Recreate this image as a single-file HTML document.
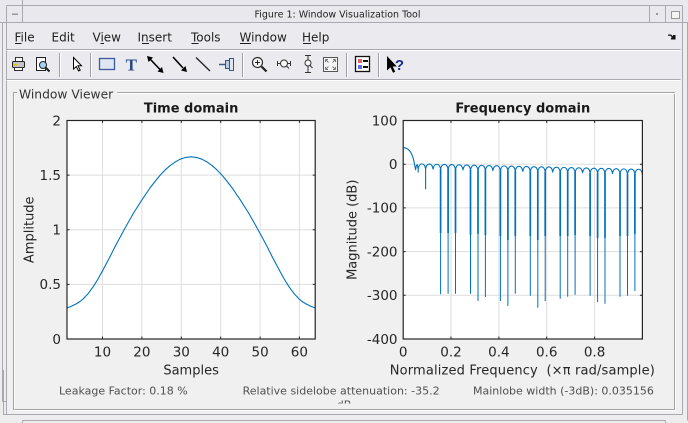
<!DOCTYPE html>
<html><head><meta charset="utf-8"><style>
html,body{margin:0;padding:0;background:#efefef;}
svg{display:block;}
text{font-family:"DejaVu Sans","Liberation Sans",sans-serif;}
</style></head><body>
<svg width="688" height="423" viewBox="0 0 688 423" xmlns="http://www.w3.org/2000/svg">
<defs>
<clipPath id="cl"><rect x="67" y="120" width="249" height="219.5"/></clipPath>
<clipPath id="cr"><rect x="403" y="120" width="240" height="219.5"/></clipPath>
<clipPath id="cb"><rect x="0" y="380" width="688" height="23.5"/></clipPath>
</defs>
<!-- backgrounds -->
<rect width="688" height="423" fill="#ededed"/>
<rect x="0" y="0" width="688" height="23" fill="#e9e9ed"/>
<rect x="6" y="23" width="677" height="57" fill="#ebebef"/>
<rect x="6" y="80" width="677" height="335" fill="#f0f0f0"/>
<!-- window frame lines -->
<path d="M6.5,5.5H682.5 M0,22.5H688 M22.5,0V22.5 M6.5,5.5V414.5 M649.5,5.5V22.5 M665.5,5.5V22.5 M682.5,5.5V414.5 M687.5,22.5V420.5 M3.5,370V414.5H682.5 M22.5,420.5H665.5 M22.5,420.5V423 M665.5,420.5V423 M2.5,22.5V401.5H6" fill="none" stroke="#a9a9b1" stroke-width="1"/>
<rect x="12" y="13.5" width="6" height="1.5" fill="#999"/>
<rect x="656" y="13" width="2" height="2" fill="#999"/>
<rect x="671.5" y="11.5" width="8" height="7" fill="#f4f4f4" stroke="#999"/>
<text x="337.5" y="17.3" font-size="10" fill="#222" text-anchor="middle" textLength="166" lengthAdjust="spacingAndGlyphs">Figure 1: Window Visualization Tool</text>
<!-- menu -->
<g font-size="12" fill="#1e1e1e">
<text x="14.5" y="41.5">File</text>
<text x="51.5" y="41.5">Edit</text>
<text x="92.5" y="41.5">View</text>
<text x="137.5" y="41.5">Insert</text>
<text x="191" y="41.5">Tools</text>
<text x="239.5" y="41.5">Window</text>
<text x="302" y="41.5">Help</text>
</g>
<path d="M15,43.5H21.5 M100.5,43.5H104 M142,43.5H149 M191.5,43.5H198.5 M240,43.5H251 M303,43.5H311" stroke="#1e1e1e" stroke-width="1"/>
<path d="M668,34.5L671,34.5L673,36.5L673,35L675.5,35L675.5,39.5L671,39.5L671,37.5L672.3,37.5L670.3,35.8L668,35.8Z" fill="#111"/>
<path d="M6.5,49.5H680.5 M6.5,79.5H680.5" stroke="#a9a9b1"/>
<path d="M6.5,50.5H680.5 M6.5,80.5H680.5" stroke="#ffffff"/>
<!-- toolbar separators -->
<path d="M59.5,53V77 M90.5,53V77 M242.5,53V77 M346.5,53V77 M378.5,53V77" stroke="#a0a0a8"/>
<path d="M60.5,53V77 M91.5,53V77 M243.5,53V77 M347.5,53V77 M379.5,53V77" stroke="#fff"/>
<!-- toolbar icons -->
<rect x="15.5" y="57.5" width="7" height="4" fill="#fff" stroke="#333"/>
<rect x="12.5" y="61.5" width="12" height="6" rx="1" fill="#c4c4c8" stroke="#222"/>
<rect x="14" y="64" width="3" height="1.5" fill="#e0c000"/>
<rect x="14.5" y="67.5" width="8" height="3" fill="#fff" stroke="#333"/>
<rect x="36.5" y="57.5" width="9" height="13" fill="#fff" stroke="#222"/>
<circle cx="43" cy="65" r="3.5" fill="#a8d0f0" stroke="#222"/>
<path d="M45.5,67.5L49.5,71.5" stroke="#222" stroke-width="2"/>
<path d="M73.5,57.5L73.5,69L76.3,66.5L78.6,71L80.2,70.2L78,65.8L81.5,65.8Z" fill="#fff" stroke="#000" stroke-width="1"/>
<rect x="99.5" y="58.5" width="15" height="11" fill="#dde6f4" stroke="#3a5a9a" stroke-width="1.3"/>
<text x="131.3" y="70.5" font-weight="bold" font-size="17" fill="#2b4a86" text-anchor="middle" style="font-family:'Liberation Serif',serif">T</text>
<path d="M150,59L160.5,70" stroke="#000" stroke-width="1.6"/>
<path d="M147,56L153,57.5L148.5,62Z M163.5,73L157.5,71.5L162,67Z" fill="#000"/>
<path d="M173,57L183,68" stroke="#000" stroke-width="1.6"/>
<path d="M187,72L181,70.5L185.5,66Z" fill="#000"/>
<path d="M196,57.5L210,71" stroke="#222" stroke-width="1.3"/>
<path d="M219,64.5H225" stroke="#3a5a8a" stroke-width="1.5"/>
<rect x="225.5" y="60.5" width="4" height="8" fill="#b8cce4" stroke="#35577a"/>
<rect x="229.5" y="58.5" width="4" height="12" fill="#dfe8f2" stroke="#35577a"/>
<circle cx="257.5" cy="62.5" r="5" fill="#f6f6f6" stroke="#333" stroke-width="1.2"/>
<path d="M255,62.5H260 M257.5,60V65" stroke="#222" stroke-width="1"/>
<path d="M261.5,66.5L266.5,71.5" stroke="#222" stroke-width="2.2"/>
<circle cx="284" cy="63.5" r="3.5" fill="#f6f6f6" stroke="#333"/>
<path d="M277,63.5H280.5 M287.5,63.5H291 M277.5,61V66 M290.5,61V66 M286.5,66L289,68.5" stroke="#333" stroke-width="1"/>
<circle cx="308" cy="63" r="3" fill="#f6f6f6" stroke="#333"/>
<path d="M305,55.5H311 M305,72.5H311 M308,55.5V60 M308,66V72.5 M310,65.5L312.5,68" stroke="#333" stroke-width="1"/>
<rect x="323.5" y="57.5" width="14" height="14" fill="#f4f4f4" stroke="#555"/>
<path d="M325.5,59.5L328.5,62.5 M335.5,59.5L332.5,62.5 M325.5,69.5L328.5,66.5 M335.5,69.5L332.5,66.5 M325.5,59.5H328 M325.5,59.5V62 M335.5,59.5H333 M335.5,59.5V62 M325.5,69.5H328 M325.5,69.5V67 M335.5,69.5H333 M335.5,69.5V67" stroke="#777" stroke-width="1"/>
<rect x="355.5" y="56.5" width="14" height="15" fill="#fff" stroke="#111" stroke-width="1.3"/>
<rect x="358" y="59" width="4" height="4" fill="#e06464"/>
<rect x="358" y="65" width="4" height="4" fill="#6470e0"/>
<path d="M363,61H368 M363,67H368" stroke="#111" stroke-width="2"/>
<path d="M387,56L387,70.5L390.5,67.3L393,72.8L395.2,71.8L392.7,66.5L396.8,66.5Z" fill="#000"/>
<text x="399.5" y="70" font-size="15" font-weight="bold" fill="#1a2a8a" text-anchor="middle" style="font-family:'Liberation Sans',sans-serif">?</text>
<!-- panel border -->
<path d="M117,92.5H674.5V409.5H13.5V92.5H17" fill="none" stroke="#a4a4a4"/>
<path d="M117,93.5H675.5 M675.5,93.5V410.5H14.5 M14.5,93.5V409.5 M14.5,93.5H17" fill="none" stroke="#ffffff"/>
<text x="19" y="98.5" font-size="12.3" fill="#333">Window Viewer</text>

<!-- LEFT AXES -->
<rect x="67" y="120.5" width="248.2" height="218.5" fill="#fff"/>
<path d="M102.5,120.5V339 M141.9,120.5V339 M181.3,120.5V339 M220.7,120.5V339 M260.1,120.5V339 M299.4,120.5V339 M67,175.1H315.2 M67,229.75H315.2 M67,284.4H315.2" stroke="#dedede" stroke-width="1"/>
<g clip-path="url(#cl)">
<path d="M67,307.8 L70,306.9 L73,305.5 L76.7,303.6 L80,301.5 L83.3,298.8 L88,293.8 L93.3,286.6 L98,279 L102.3,271.2 L106,264.3 L110,256.7 L115,246.8 L120,237.4 L126.7,225.1 L133.3,213.5 L141.7,200.2 L150,188 L155,181.5 L160,175.4 L165,170.1 L170,165.7 L175,162.1 L180,159.3 L185,157.6 L191.1,156.8 L197.2,157.6 L202.2,159.3 L207.2,162.1 L212.2,165.7 L217.2,170.1 L222.2,175.4 L227.2,181.5 L232.2,188 L240.5,200.2 L248.9,213.5 L255.5,225.1 L262.2,237.4 L267.2,246.8 L272.2,256.7 L276.2,264.3 L279.9,271.2 L284.2,279 L288.9,286.6 L294.2,293.8 L298.9,298.8 L302.2,301.5 L305.5,303.6 L309.2,305.5 L312.2,306.9 L315.2,307.8" fill="none" stroke="#0072BD" stroke-width="1.1" stroke-linejoin="round"/>
</g>
<rect x="67" y="120.5" width="248.2" height="218.5" fill="none" stroke="#262626" stroke-width="1.2"/>
<path d="M102.5,339V336.5 M141.9,339V336.5 M181.3,339V336.5 M220.7,339V336.5 M260.1,339V336.5 M299.4,339V336.5 M102.5,120.5V123 M141.9,120.5V123 M181.3,120.5V123 M220.7,120.5V123 M260.1,120.5V123 M299.4,120.5V123 M67,175.1H69.5 M67,229.75H69.5 M67,284.4H69.5 M315.2,175.1H312.7 M315.2,229.75H312.7 M315.2,284.4H312.7" stroke="#262626" stroke-width="1"/>
<g font-size="13.5" fill="#262626" text-anchor="end">
<text x="61" y="125.3">2</text>
<text x="61" y="179.9">1.5</text>
<text x="61" y="234.5">1</text>
<text x="61" y="289.2">0.5</text>
<text x="61" y="343.8">0</text>
</g>
<g font-size="13.5" fill="#262626" text-anchor="middle">
<text x="102.5" y="356.7">10</text>
<text x="141.9" y="356.7">20</text>
<text x="181.3" y="356.7">30</text>
<text x="220.7" y="356.7">40</text>
<text x="260.1" y="356.7">50</text>
<text x="299.4" y="356.7">60</text>
</g>
<text x="191.1" y="112.5" font-size="13" font-weight="bold" fill="#1a1a1a" text-anchor="middle">Time domain</text>
<text x="191.1" y="374.5" font-size="13" fill="#262626" text-anchor="middle">Samples</text>
<text transform="translate(33.3,229.75) rotate(-90)" font-size="13" fill="#262626" text-anchor="middle">Amplitude</text>

<!-- RIGHT AXES -->
<rect x="403.2" y="120.5" width="239.2" height="218.5" fill="#fff"/>
<path d="M451,120.5V339 M498.9,120.5V339 M546.7,120.5V339 M594.6,120.5V339 M403.2,164.2H642.4 M403.2,207.9H642.4 M403.2,251.6H642.4 M403.2,295.3H642.4" stroke="#dedede" stroke-width="1"/>
<g clip-path="url(#cr)" fill="none" stroke="#0072BD">
<path stroke-width="1.1" stroke-linejoin="round" d="M403.2,147.7 L405,147.8 L406.5,148.3 L408,149.3 L409.5,150.7 L410.7,152.3 L411.6,154 L412.3,155.7 L413.1,158 L413.7,160.2 L414.3,163.5 L415,166.5 L415.6,169.8 L416.3,165.8 L417.2,164.6 L418.2,168.8
C419.3,162.2 424.5,162.2 425.6,169.0
C426.7,162.4 432.0,162.4 433.1,169.1
C434.2,162.6 439.5,162.6 440.6,169.3
C441.7,162.8 447.0,162.8 448.1,169.5
C449.2,162.9 454.4,162.9 455.5,169.7
C456.6,163.1 461.9,163.1 463.0,169.9
C464.1,163.3 469.4,163.3 470.5,170.1
C471.6,163.5 476.9,163.5 478.0,170.3
C479.1,163.7 484.3,163.7 485.4,170.4
C486.5,163.9 491.8,163.9 492.9,170.6
C494.0,164.0 499.3,164.0 500.4,170.8
C501.5,164.2 506.8,164.2 507.9,171.0
C509.0,164.4 514.2,164.4 515.3,171.2
C516.4,164.6 521.7,164.6 522.8,171.4
C523.9,164.8 529.2,164.8 530.3,171.6
C531.4,165.0 536.7,165.0 537.8,171.7
C538.9,165.2 544.1,165.2 545.2,171.9
C546.3,165.3 551.6,165.3 552.7,172.1
C553.8,165.5 559.1,165.5 560.2,172.3
C561.3,165.7 566.6,165.7 567.7,172.5
C568.8,165.9 574.0,165.9 575.1,172.7
C576.2,166.1 581.5,166.1 582.6,172.8
C583.7,166.3 589.0,166.3 590.1,173.0
C591.2,166.5 596.5,166.5 597.6,173.2
C598.7,166.6 603.9,166.6 605.0,173.4
C606.1,166.8 611.4,166.8 612.5,173.6
C613.6,167.0 618.9,167.0 620.0,173.8
C621.1,167.2 626.4,167.2 627.5,174.0
C628.6,167.4 633.8,167.4 634.9,174.1
C636.0,167.6 641.3,167.6 642.4,174.3"/>
<path stroke-width="1.1" d="M418.2,168.8V172.5 M425.6,169V189.3"/>
<path stroke-width="1.7" d="M440.6,169V233 M448.1,169V233 M455.5,169V233 M470.5,170V235 M478,170V234 M485.4,170V235 M500.4,170V236 M507.9,171V240 M515.3,171V236 M530.3,171V236 M537.8,171V240 M545.2,172V236 M560.2,172V236 M567.7,172V236 M575.1,172V235 M590.1,173V236 M597.6,173V238 M605,173V238 M620,173V236 M627.5,174V236 M634.9,174V234"/>
<path stroke-width="1" d="M440.6,169V294.3 M448.1,169V293.7 M455.5,169V293.7 M470.5,170V293.7 M478,170V301 M485.4,170V297 M500.4,170V301 M507.9,171V306 M515.3,171V293.7 M530.3,171V295.7 M537.8,171V307.7 M545.2,172V301 M560.2,172V298.7 M567.7,172V296.7 M575.1,172V294.7 M590.1,173V295.7 M597.6,173V302 M605,173V303.7 M620,173V296.7 M627.5,174V295.7 M634.9,174V291"/>
</g>
<rect x="403.2" y="120.5" width="239.2" height="218.5" fill="none" stroke="#262626" stroke-width="1.2"/>
<path d="M451,339V336.5 M498.9,339V336.5 M546.7,339V336.5 M594.6,339V336.5 M451,120.5V123 M498.9,120.5V123 M546.7,120.5V123 M594.6,120.5V123 M403.2,164.2H405.7 M403.2,207.9H405.7 M403.2,251.6H405.7 M403.2,295.3H405.7 M642.4,164.2H639.9 M642.4,207.9H639.9 M642.4,251.6H639.9 M642.4,295.3H639.9" stroke="#262626" stroke-width="1"/>
<g font-size="13.5" fill="#262626" text-anchor="end">
<text x="397.5" y="125.3">100</text>
<text x="397.5" y="169">0</text>
<text x="397.5" y="212.7">-100</text>
<text x="397.5" y="256.4">-200</text>
<text x="397.5" y="300.1">-300</text>
<text x="397.5" y="343.8">-400</text>
</g>
<g font-size="13.5" fill="#262626" text-anchor="middle">
<text x="403.2" y="356.7">0</text>
<text x="451" y="356.7">0.2</text>
<text x="498.9" y="356.7">0.4</text>
<text x="546.7" y="356.7">0.6</text>
<text x="594.6" y="356.7">0.8</text>
</g>
<text x="522.8" y="112.5" font-size="13" font-weight="bold" fill="#1a1a1a" text-anchor="middle">Frequency domain</text>
<text x="522.3" y="374.5" font-size="13" fill="#262626" text-anchor="middle" xml:space="preserve" textLength="265" lengthAdjust="spacing">Normalized Frequency  (×π rad/sample)</text>
<text transform="translate(356.7,229.75) rotate(-90)" font-size="13" fill="#262626" text-anchor="middle">Magnitude (dB)</text>

<!-- bottom info -->
<g font-size="11" fill="#505050">
<text x="59" y="394.7">Leakage Factor: 0.18 %</text>
<text x="242.6" y="394.7">Relative sidelobe attenuation: -35.2</text>
<text x="473" y="394.7">Mainlobe width (-3dB): 0.035156</text>
<g clip-path="url(#cb)"><text x="344" y="408.5" text-anchor="middle">dB</text></g>
</g>
</svg>
</body></html>
